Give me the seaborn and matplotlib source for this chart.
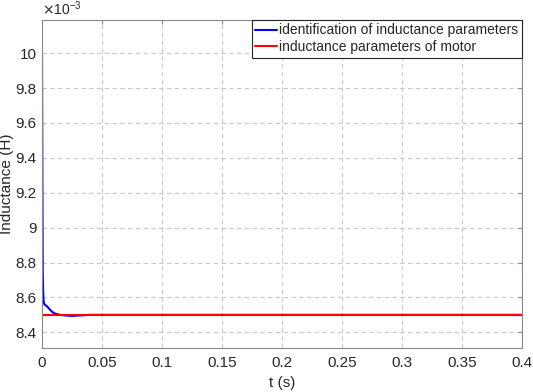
import numpy as np
import pandas as pd
import matplotlib
matplotlib.use("Agg")
import matplotlib.pyplot as plt
import seaborn as sns
from matplotlib.ticker import FuncFormatter

# identified inductance over time (H)
t_ident = [0, 0.0003, 0.0006, 0.0009, 0.0013, 0.002, 0.004, 0.006, 0.008, 0.010, 0.012, 0.015, 0.02, 0.025, 0.03, 0.04, 0.1, 0.2, 0.3, 0.4]
L_ident = [0.0100, 0.0093, 0.00875, 0.00865, 0.00858, 0.00856, 0.00855, 0.008535, 0.00852, 0.00851, 0.008505, 0.0085, 0.008496, 0.008494, 0.008496, 0.0085, 0.0085, 0.0085, 0.0085, 0.0085]
# motor inductance (H)
t_motor = [0, 0.4]
L_motor = [0.0085, 0.0085]

df1 = pd.DataFrame({"t": t_ident, "L": L_ident})
df2 = pd.DataFrame({"t": t_motor, "L": L_motor})

sns.set_style("whitegrid")
plt.rcParams['font.family'] = ['Liberation Sans', 'DejaVu Sans']

fig = plt.figure(figsize=(5.33, 3.92), dpi=100)
ax = fig.add_axes([0.0788, 0.1122, 0.9006, 0.8368])

sns.lineplot(data=df1, x="t", y="L", color="#0000ff", linewidth=1.5, ax=ax,
             label="identification of inductance parameters", sort=False)
sns.lineplot(data=df2, x="t", y="L", color="#ff0000", linewidth=1.5, ax=ax,
             label="inductance parameters of motor")

ax.set_xlim(0, 0.4)
ax.set_ylim(0.00831, 0.01019)
ax.set_xticks(np.arange(0, 0.41, 0.05))
ax.set_yticks([0.0084, 0.0086, 0.0088, 0.0090, 0.0092, 0.0094, 0.0096, 0.0098, 0.0100])
ax.xaxis.set_major_formatter(FuncFormatter(lambda v, p: f"{v:g}"))
ax.yaxis.set_major_formatter(FuncFormatter(lambda v, p: f"{round(v * 1e3, 3):g}"))

ax.grid(True, color="#c8c8c8", linestyle=(0, (4, 3)), linewidth=0.8)
for s in ax.spines.values():
    s.set_color("#888888")
    s.set_linewidth(0.8)
ax.tick_params(axis="both", labelsize=11, colors="#262626", direction="in",
               length=3, top=True, right=True, color="#888888")
ax.tick_params(axis="x", pad=6)
ax.tick_params(axis="y", pad=4)

ax.set_xlabel("t (s)", fontsize=11, color="#262626")
ax.set_ylabel("Inductance (H)", fontsize=11, color="#262626")
ax.yaxis.set_label_coords(-0.058, 0.5)
ax.text(0.0, 1.005, r"$\times$10$^{\mathregular{-3}}$", transform=ax.transAxes,
        fontsize=10, color="#262626", ha="left", va="bottom")

leg = ax.legend(loc="upper right", fontsize=10, borderaxespad=0, fancybox=False,
                handlelength=1.6, handletextpad=0.15, borderpad=0.25, labelspacing=0.2,
                framealpha=1)
leg.get_frame().set_edgecolor("#262626")
leg.get_frame().set_linewidth(0.8)

fig.savefig("out.png", dpi=100)
